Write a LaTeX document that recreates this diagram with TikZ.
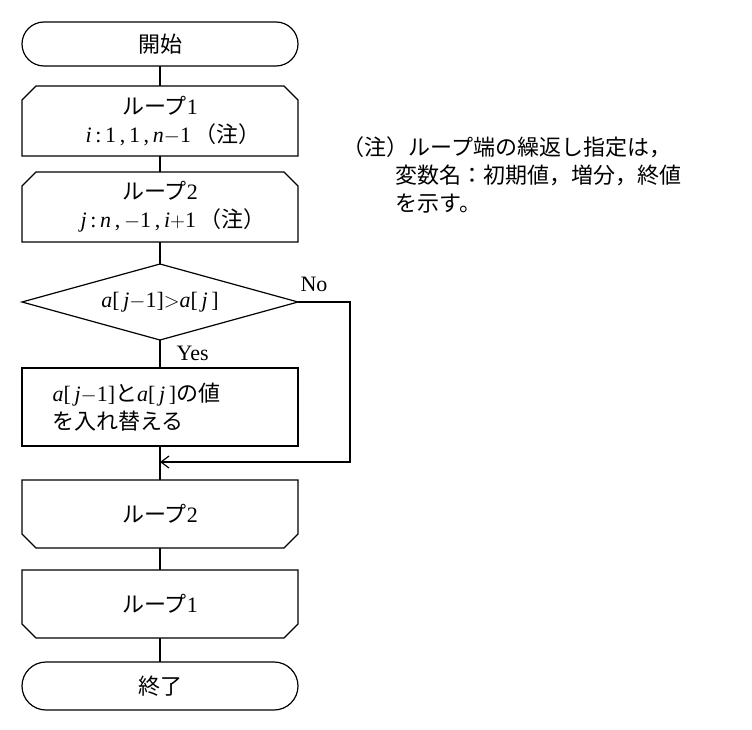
\documentclass[tikz,border=0pt]{standalone}
\usetikzlibrary{arrows.meta}
\usepackage{fontspec}
\newfontfamily\cjk{Noto Sans CJK JP}
\setmainfont{Liberation Serif}
\begin{document}
\begin{tikzpicture}[x=1pt,y=-1pt,line width=1.2pt,
  txt/.style={font=\fontsize{22}{28}\selectfont,align=center,inner sep=0pt}]
\useasboundingbox (0,0) rectangle (752,730);
\def\L{22}\def\R{298}\def\C{160}\def\k{14}
% start
\draw (\L+22,22) -- (\R-22,22) arc[start angle=-90,end angle=90,radius=22] -- (\L+22,66) arc[start angle=90,end angle=270,radius=22] -- cycle;
\node[txt] (start) at (\C,44) {\cjk 開始};
% loop1 top
\draw (\L,156) -- (\L,86+\k) -- (\L+\k,86) -- (\R-\k,86) -- (\R,86+\k) -- (\R,156) -- cycle;
\node[txt] (l1) at (\C,121) {{\cjk ループ}1\\\hspace*{1.2em}\textit{i}\,:\,1\,,\,1\,,\,\textit{n}$-$1\,{\cjk（注）}};
% loop2 top
\draw (\L,242) -- (\L,172+\k) -- (\L+\k,172) -- (\R-\k,172) -- (\R,172+\k) -- (\R,242) -- cycle;
\node[txt] (l2) at (\C,207) {{\cjk ループ}2\\\hspace*{1.2em}\textit{j}\,:\,\textit{n}\,,\,$-$1\,,\,\textit{i}$+$1\,{\cjk（注）}};
% diamond
\draw (\C,264) -- (\R,302) -- (\C,340) -- (\L,302) -- cycle;
\node[txt] (d) at (\C,302) {\textit{a}[\,\textit{j}$-$1]$>$\textit{a}[\,\textit{j}\,]};
\node[txt,anchor=west] (no) at (300,284) {No};
\node[txt,anchor=west] (yes) at (176,353) {Yes};
% process
\draw (\L,368) rectangle (\R,446);
\node[txt,align=left,anchor=west] (p) at (52,407) {\textit{a}[\,\textit{j}$-$1]{\cjk と}\textit{a}[\,\textit{j}\,]{\cjk の値}\\{\cjk を入れ替える}};
% loop2 end
\draw (\L,480) -- (\R,480) -- (\R,548-\k) -- (\R-\k,548) -- (\L+\k,548) -- (\L,548-\k) -- cycle;
\node[txt] (e2) at (\C,514) {{\cjk ループ}2};
% loop1 end
\draw (\L,570) -- (\R,570) -- (\R,638-\k) -- (\R-\k,638) -- (\L+\k,638) -- (\L,638-\k) -- cycle;
\node[txt] (e1) at (\C,604) {{\cjk ループ}1};
% end
\draw (\L+24,662) -- (\R-24,662) arc[start angle=-90,end angle=90,radius=24] -- (\L+24,710) arc[start angle=90,end angle=270,radius=24] -- cycle;
\node[txt] (end) at (\C,686) {\cjk 終了};
% connectors
\draw (\C,66) -- (\C,86);
\draw (\C,156) -- (\C,172);
\draw (\C,242) -- (\C,264);
\draw (\C,340) -- (\C,368);
\draw (\C,446) -- (\C,480);
\draw (\C,548) -- (\C,570);
\draw (\C,638) -- (\C,662);
\coordinate (m) at (\C,462);
\draw[-{Straight Barb[length=8pt,width=12pt]}] (\R,302) -- (350,302) -- (350,462) -- (m);
% note
\node[txt,align=left,anchor=north west] (note) at (342,136) {{\cjk（注）ループ端の繰返し指定は，}\\\hspace*{2.4em}{\cjk 変数名：初期値，増分，終値}\\\hspace*{2.4em}{\cjk を示す。}};
\end{tikzpicture}
\end{document}
